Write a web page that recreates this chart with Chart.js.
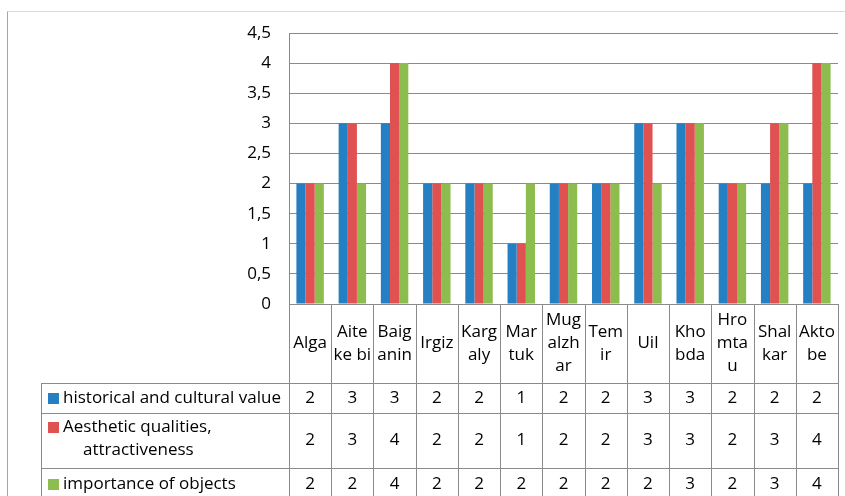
<!DOCTYPE html>
<html>
<head>
<meta charset="utf-8">
<script src="https://cdn.jsdelivr.net/npm/chart.js@4/dist/chart.umd.min.js"></script>
<style>
  html, body { margin: 0; padding: 0; background: #fff; }
  #wrap { width: 845px; height: 496px; position: relative; }
</style>
</head>
<body>
<div id="wrap"><canvas id="chart"></canvas></div>
<script>
// Districts (split into the lines shown in the table header)
const districts = [
  ['Alga'], ['Aite', 'ke bi'], ['Baig', 'anin'], ['Irgiz'], ['Karg', 'aly'],
  ['Mar', 'tuk'], ['Mug', 'alzh', 'ar'], ['Tem', 'ir'], ['Uil'], ['Kho', 'bda'],
  ['Hro', 'mta', 'u'], ['Shal', 'kar'], ['Akto', 'be']
];
const historicalValue = [2, 3, 3, 2, 2, 1, 2, 2, 3, 3, 2, 2, 2];
const aestheticValue  = [2, 3, 4, 2, 2, 1, 2, 2, 3, 3, 2, 3, 4];
const importanceValue = [2, 2, 4, 2, 2, 2, 2, 2, 2, 3, 2, 3, 4];
const seriesNames = [
  ['historical and cultural value'],
  ['Aesthetic qualities,', 'attractiveness'],
  ['importance of objects']
];
const yTickLabels = ['0', '0,5', '1', '1,5', '2', '2,5', '3', '3,5', '4', '4,5'];

const colors = ['#2580c3', '#e05252', '#8dbc4f'];
const FAMILY = '"Open Sans", Lato, sans-serif';
const FONT = '17px ' + FAMILY;
const LINE = '#8a8a8a';

// Data table under the plot: header row with district names, then one row per series
const dataTable = {
  id: 'dataTable',
  beforeDraw(chart) {
    const ctx = chart.ctx;
    ctx.save();
    ctx.lineWidth = 1;
    ctx.strokeStyle = '#d9d9d9';
    ctx.beginPath();
    ctx.moveTo(7.5, 11.5);
    ctx.lineTo(chart.width, 11.5);
    ctx.stroke();
    ctx.strokeStyle = '#a6a6a6';
    ctx.beginPath();
    ctx.moveTo(7.5, 11.5);
    ctx.lineTo(7.5, chart.height);
    ctx.stroke();
    ctx.restore();
  },
  afterDraw(chart) {
    const { ctx, chartArea: a, scales: { x } } = chart;
    const n = districts.length;
    const cw = a.width / n;
    const tableLeft = 41.5;
    const rowEdges = [a.bottom, a.bottom + 79, a.bottom + 109, a.bottom + 164, a.bottom + 196];
    const values = chart.data.datasets.map(d => d.data);

    ctx.save();
    ctx.strokeStyle = LINE;
    ctx.lineWidth = 1;
    ctx.beginPath();
    // vertical lines at category boundaries
    for (let i = 0; i <= n; i++) {
      const px = Math.round(a.left + i * cw) + 0.5;
      ctx.moveTo(px, a.bottom);
      ctx.lineTo(px, chart.height);
    }
    ctx.moveTo(tableLeft, rowEdges[1]);
    ctx.lineTo(tableLeft, chart.height);
    for (let r = 1; r < 4; r++) {
      const py = Math.round(rowEdges[r]) + 0.5;
      ctx.moveTo(tableLeft, py);
      ctx.lineTo(Math.round(a.right) + 0.5, py);
    }
    ctx.stroke();

    ctx.fillStyle = '#000';
    ctx.font = FONT;
    ctx.textAlign = 'center';
    ctx.textBaseline = 'middle';
    const lh = 23;
    // header row
    districts.forEach((lines, i) => {
      const cx = x.getPixelForTick(i);
      const cy = (rowEdges[0] + rowEdges[1]) / 2;
      lines.forEach((t, k) => {
        ctx.fillText(t, cx, cy + (k - (lines.length - 1) / 2) * lh);
      });
    });
    // series rows
    values.forEach((vals, r) => {
      const cy = (rowEdges[r + 1] + rowEdges[r + 2]) / 2;
      vals.forEach((v, i) => ctx.fillText(String(v), x.getPixelForTick(i), cy));
      const names = seriesNames[r];
      const ly = cy - (names.length - 1) * lh / 2 - (names.length > 1 ? 2 : 0);
      ctx.fillStyle = colors[r];
      ctx.fillRect(48, Math.round(ly) - 5, 11, 11);
      ctx.fillStyle = '#000';
      ctx.textAlign = 'left';
      names.forEach((t, k) => ctx.fillText(t, k === 0 ? 63 : 83, ly + k * lh));
      ctx.textAlign = 'center';
    });
    ctx.restore();
  }
};

new Chart(document.getElementById('chart'), {
  type: 'bar',
  data: {
    labels: districts,
    datasets: [
      { label: seriesNames[0].join(' '), data: historicalValue, backgroundColor: colors[0] },
      { label: seriesNames[1].join(' '), data: aestheticValue, backgroundColor: colors[1] },
      { label: seriesNames[2].join(' '), data: importanceValue, backgroundColor: colors[2] }
    ]
  },
  options: {
    responsive: true,
    maintainAspectRatio: false,
    animation: false,
    layout: { padding: { top: 33, right: 7, bottom: 192, left: 0 } },
    datasets: { bar: { categoryPercentage: 0.65, barPercentage: 1.0 } },
    plugins: { legend: { display: false }, tooltip: { enabled: false } },
    scales: {
      x: { display: false },
      y: {
        min: 0,
        max: 4.5,
        afterFit(scale) { scale.width = 289; },
        ticks: {
          stepSize: 0.5,
          padding: 18,
          color: '#000',
          font: { family: FAMILY, size: 17 },
          callback: (v, i) => yTickLabels[i]
        },
        grid: { color: LINE, drawTicks: false },
        border: { color: LINE }
      }
    }
  },
  plugins: [dataTable]
});
</script>
</body>
</html>
